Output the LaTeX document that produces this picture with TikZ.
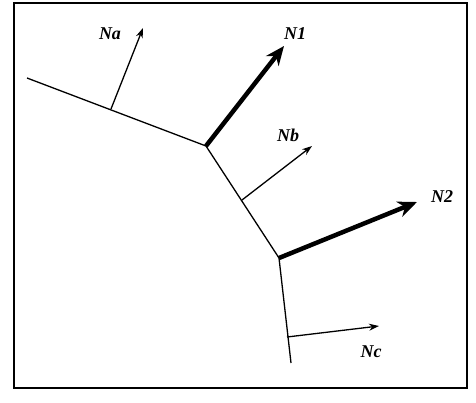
\documentclass[tikz,border=0pt]{standalone}
\usepackage{fontspec}
\setmainfont{Liberation Serif}
\usetikzlibrary{arrows.meta}
\begin{document}
\begin{tikzpicture}[x=1pt,y=-1pt,
  edge/.style={line width=1.3pt},
  thin vec/.style={line width=1.3pt,-{Stealth[length=10pt,width=7pt]}},
  thick vec/.style={line width=4.5pt,-{Stealth[length=19pt,width=16pt,inset=6pt]}},
  lbl/.style={font=\fontsize{18}{20}\selectfont\bfseries\itshape,inner sep=0pt}]
\useasboundingbox (0,0) rectangle (476,402);
\draw[line width=2pt] (14,3) rectangle (467,388);
\coordinate (s) at (27,78);
\coordinate (v1) at (206,146);
\coordinate (v2) at (279,258);
\coordinate (e) at (291,363);
\draw[edge] (s) -- (v1) -- (v2) -- (e);
\coordinate (fa) at (111,109);
\coordinate (ta) at (143,28);
\coordinate (t1) at (284,46);
\coordinate (fb) at (242,200);
\coordinate (tb) at (312,146);
\coordinate (t2) at (417,202);
\coordinate (fc) at (287,337);
\coordinate (tc) at (379,326);
\draw[thin vec] (fa) -- (ta);
\draw[thin vec] (fb) -- (tb);
\draw[thin vec] (fc) -- (tc);
\draw[thick vec] (v1) -- (t1);
\draw[thick vec] (v2) -- (t2);
\node[lbl] (Na) at (110,34) {Na};
\node[lbl] (N1) at (295,34) {N1};
\node[lbl] (Nb) at (288,135) {Nb};
\node[lbl] (N2) at (442,197) {N2};
\node[lbl] (Nc) at (371,352) {Nc};
\end{tikzpicture}
\end{document}
